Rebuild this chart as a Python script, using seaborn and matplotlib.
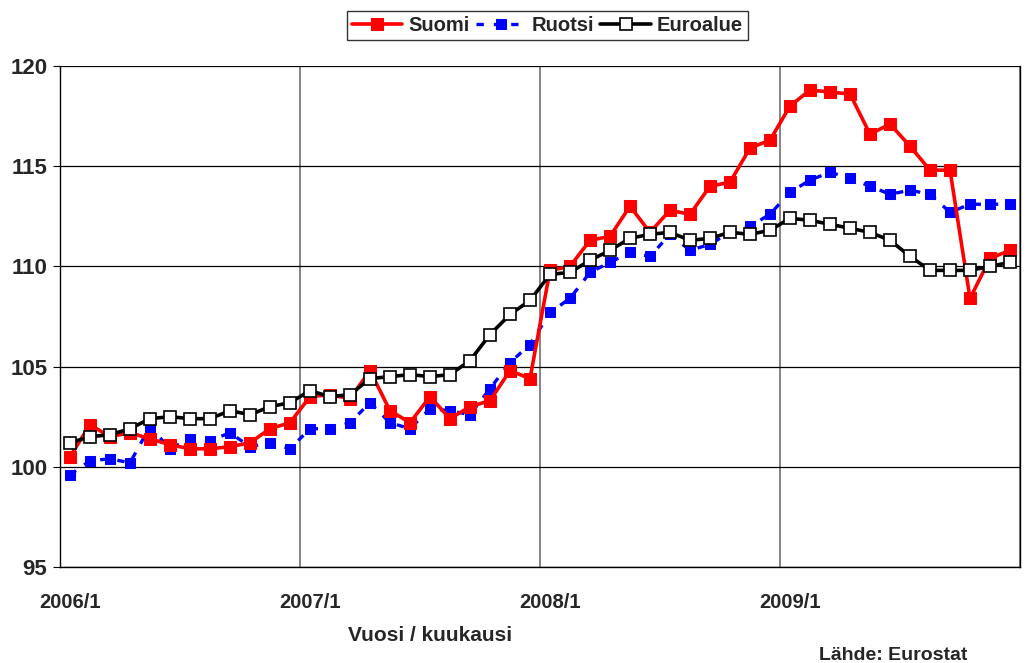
import matplotlib
matplotlib.use("Agg")
import matplotlib.pyplot as plt
import numpy as np
import pandas as pd
import seaborn as sns

# kuukausittaiset indeksit 2006/1 - 2009/12
suomi = [100.5, 102.1, 101.5, 101.7, 101.4, 101.1, 100.9, 100.9, 101.0, 101.2, 101.9, 102.2,
         103.5, 103.6, 103.4, 104.8, 102.8, 102.2, 103.5, 102.4, 103.0, 103.3, 104.8, 104.4,
         109.8, 110.0, 111.3, 111.5, 113.0, 111.7, 112.8, 112.6, 114.0, 114.2, 115.9, 116.3,
         118.0, 118.8, 118.7, 118.6, 116.6, 117.1, 116.0, 114.8, 114.8, 108.4, 110.4, 110.8]
ruotsi = [99.6, 100.3, 100.4, 100.2, 102.0, 100.9, 101.4, 101.3, 101.7, 101.0, 101.2, 100.9,
          101.9, 101.9, 102.2, 103.2, 102.2, 101.9, 102.9, 102.8, 102.6, 103.9, 105.2, 106.1,
          107.7, 108.4, 109.7, 110.2, 110.7, 110.5, 111.6, 110.8, 111.1, 111.7, 112.0, 112.6,
          113.7, 114.3, 114.7, 114.4, 114.0, 113.6, 113.8, 113.6, 112.7, 113.1, 113.1, 113.1]
euroalue = [101.2, 101.5, 101.6, 101.9, 102.4, 102.5, 102.4, 102.4, 102.8, 102.6, 103.0, 103.2,
            103.8, 103.5, 103.6, 104.4, 104.5, 104.6, 104.5, 104.6, 105.3, 106.6, 107.6, 108.3,
            109.6, 109.7, 110.3, 110.8, 111.4, 111.6, 111.7, 111.3, 111.4, 111.7, 111.6, 111.8,
            112.4, 112.3, 112.1, 111.9, 111.7, 111.3, 110.5, 109.8, 109.8, 109.8, 110.0, 110.2]
years = ["2006/1", "2007/1", "2008/1", "2009/1"]

df = pd.DataFrame({"kk": np.arange(len(suomi)), "Suomi": suomi,
                   "Ruotsi": ruotsi, "Euroalue": euroalue})

sns.set_style("white")
plt.rcParams["font.family"] = ["Liberation Sans", "DejaVu Sans"]
plt.rcParams["font.weight"] = "bold"

fig = plt.figure(figsize=(10.27, 6.63), dpi=100)
ax = fig.add_axes([0.0584, 0.1448, 0.9348, 0.7557])

sns.lineplot(data=df, x="kk", y="Suomi", ax=ax, color="#ff0000", lw=2.6,
             marker="s", markersize=8.5, markeredgecolor="#ff0000", label="Suomi", zorder=3)
sns.lineplot(data=df, x="kk", y="Ruotsi", ax=ax, color="#0000ff", lw=2.4,
             linestyle=(0, (2.2, 3.0)), marker="s", markersize=7.5,
             markeredgecolor="#0000ff", label="Ruotsi", zorder=2)
sns.lineplot(data=df, x="kk", y="Euroalue", ax=ax, color="black", lw=2.6,
             marker="s", markersize=9, markerfacecolor="white",
             markeredgecolor="black", markeredgewidth=1.2, label="Euroalue", zorder=4)

ax.set_xlim(-0.5, len(suomi) - 0.5)
ax.set_ylim(95, 120)
ax.set_yticks(np.arange(95, 121, 5))
ax.set_yticklabels([str(v) for v in range(95, 121, 5)], fontsize=16, fontweight="bold")

ax.set_xticks(np.arange(0, len(suomi), 12))
ax.set_xticklabels(years, fontsize=14.5, fontweight="bold")
ax.set_xticks(np.arange(-0.5, len(suomi), 12), minor=True)
ax.tick_params(axis="x", which="major", length=0, pad=19)
ax.tick_params(axis="x", which="minor", length=5, direction="inout", color="black")
ax.tick_params(axis="y", which="major", length=5, direction="out", color="black", pad=4, left=True)

ax.grid(False)
ax.yaxis.grid(True, color="black", lw=0.9)
ax.xaxis.grid(True, which="minor", color="#707070", lw=1.2)
for s in ax.spines.values():
    s.set_color("black")
    s.set_linewidth(1.0)
ax.spines["top"].set_visible(False)

ax.set_xlabel("")
ax.set_ylabel("")
fig.text(0.419, 0.041, "Vuosi / kuukausi", fontsize=15, fontweight="bold", ha="center", va="center")
fig.text(0.870, 0.012, "Lähde: Eurostat", fontsize=14, fontweight="bold", ha="center", va="center")

leg = ax.legend(loc="center", bbox_to_anchor=(0.533, 0.961), bbox_transform=fig.transFigure,
                ncol=3, frameon=True, fancybox=False, edgecolor="black", handlelength=2.5,
                columnspacing=0.3, handletextpad=0.3, borderpad=0.25,
                prop={"size": 14.5, "weight": "bold"})
leg.get_frame().set_linewidth(1.0)

fig.savefig("out.png", dpi=100)
